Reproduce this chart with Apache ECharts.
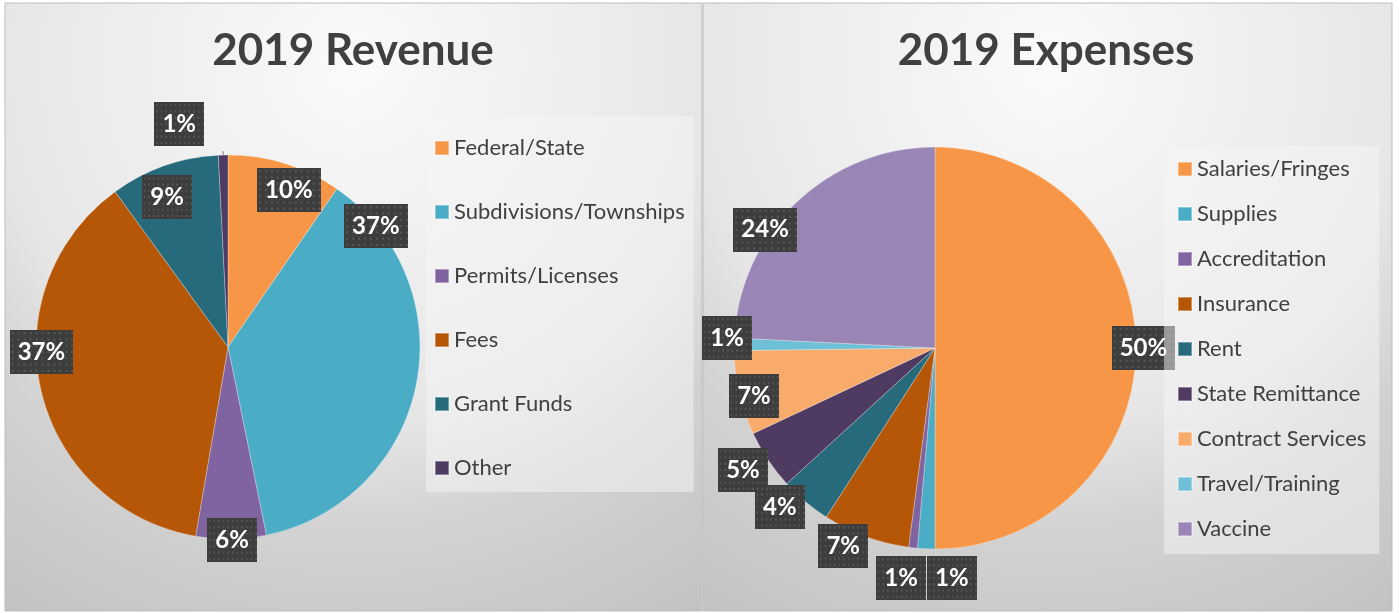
<!DOCTYPE html>
<html>
<head>
<meta charset="utf-8">
<script src="https://cdn.jsdelivr.net/npm/echarts@6/dist/echarts.min.js"></script>
<style>
  html, body { margin: 0; padding: 0; background: #fff; }
  #chart { width: 1399px; height: 613px; }
</style>
</head>
<body>
<div id="chart"></div>
<script>
// revenue pie
const revNames = ['Federal/State', 'Subdivisions/Townships', 'Permits/Licenses', 'Fees', 'Grant Funds', 'Other'];
const revValues = [9.6, 37.2, 5.9, 37.3, 9.2, 0.8];
const revColors = ['#f79646', '#4bacc6', '#8064a2', '#b65708', '#276a7c', '#4f3b62'];

// expenses pie
const expNames = ['Salaries/Fringes', 'Supplies', 'Accreditation', 'Insurance', 'Rent', 'State Remittance', 'Contract Services', 'Travel/Training', 'Vaccine'];
const expValues = [50, 1.4, 0.7, 7.0, 4.1, 4.8, 6.8, 1.0, 24.2];
const expColors = ['#f79646', '#4bacc6', '#8064a2', '#b65708', '#276a7c', '#4f3b62', '#f9ab6b', '#6ec0d6', '#9a86b6'];

// label placement, excel style: distance (x radius) and angle shift from the slice middle
const revLabelDist = [0.877, 0.995, 1.005, 0.972, 0.843, 1.168];
const revLabelShift = [3.9, -50.8, -0.3, 11.6, -2.7, -4.7];
const revLeader = [false, false, false, false, false, true];
const expLabelDist = [1.037, 1.147, 1.157, 1.086, 1.105, 1.132, 0.932, 1.036, 1.03];
const expLabelShift = [0, -6.7, 2.1, 4.7, 4.2, 1.4, -1.9, 1.7, -11.6];

const revCenter = [228, 347], revRadius = 192;
const expCenter = [935, 348], expRadius = 201;

// dotted dark box behind the percent labels
const dots = document.createElement('canvas');
dots.width = 64; dots.height = 42;
(() => {
  const g = dots.getContext('2d');
  g.fillStyle = '#3d3d3d';
  g.fillRect(0, 0, 64, 42);
  g.fillStyle = '#575757';
  for (let x = 2; x < 64; x += 6) {
    for (let y = 2; y < 42; y += 6) g.fillRect(x, y, 2, 2);
  }
})();

const labelStyle = {
  position: 'inside',
  color: '#fff',
  fontFamily: 'Lato',
  fontWeight: 'bold',
  fontSize: 24,
  lineHeight: 24,
  padding: [10, 8, 10, 8],
  backgroundColor: { image: dots },
  shadowColor: 'rgba(0,0,0,0.45)',
  shadowBlur: 6,
  shadowOffsetX: 3,
  shadowOffsetY: 3,
  formatter: p => Math.round(p.percent) + '%'
};

function makeLayout(values, center, R, dist, shift) {
  const total = values.reduce((a, b) => a + b, 0);
  const mids = [];
  let acc = 0;
  values.forEach(v => { mids.push((acc + v / 2) / total * 360); acc += v; });
  return params => {
    const i = params.dataIndex;
    const a = (mids[i] + shift[i]) * Math.PI / 180;
    const tx = center[0] + R * dist[i] * Math.sin(a);
    const ty = center[1] - R * dist[i] * Math.cos(a);
    const lr = params.labelRect;
    return { dx: tx - (lr.x + lr.width / 2), dy: ty - (lr.y + lr.height / 2) };
  };
}

function panelFill() {
  return new echarts.graphic.RadialGradient(0.5, 0.1, 1.07, [
    { offset: 0, color: '#fafafa' },
    { offset: 0.55, color: '#e6e6e6' },
    { offset: 0.72, color: '#d2d2d2' },
    { offset: 1, color: '#c2c2c2' }
  ]);
}

const titleStyle = { fontFamily: 'Lato', fontWeight: 'bold', fontSize: 44, color: '#404040' };
const legendText = { fontFamily: 'Lato', fontSize: 22, color: '#404040' };

const chart = echarts.init(document.getElementById('chart'));

const option = {
  animation: false,
  backgroundColor: '#fff',
  graphic: [
    { type: 'rect', z: 0, silent: true, shape: { x: 5, y: 3, width: 697, height: 608 },
      style: { fill: panelFill(), stroke: '#bdbdbd', lineWidth: 1 } },
    { type: 'rect', z: 0, silent: true, shape: { x: 703, y: 3, width: 689, height: 608 },
      style: { fill: panelFill(), stroke: '#bdbdbd', lineWidth: 1 } }
  ],
  title: [
    { text: '2019 Revenue', left: 348, top: 24, textAlign: 'center', textStyle: titleStyle },
    { text: '2019 Expenses', left: 1041, top: 24, textAlign: 'center', textStyle: titleStyle }
  ],
  legend: [
    {
      data: revNames, orient: 'vertical', left: 426, top: 116,
      itemWidth: 14, itemHeight: 14, itemGap: 42, icon: 'rect',
      padding: [21, 9, 13, 8], backgroundColor: 'rgba(245,245,245,0.5)',
      selectedMode: false, textStyle: legendText
    },
    {
      data: expNames, orient: 'vertical', left: 1164, top: 146,
      itemWidth: 14, itemHeight: 14, itemGap: 23, icon: 'rect',
      padding: [12, 13, 14, 13], backgroundColor: 'rgba(245,245,245,0.5)',
      selectedMode: false, textStyle: legendText
    }
  ],
  series: [
    {
      type: 'pie', center: revCenter, radius: revRadius, startAngle: 90, clockwise: true,
      silent: true, avoidLabelOverlap: false,
      itemStyle: { borderColor: 'rgba(255,255,255,0.35)', borderWidth: 0.8 },
      label: labelStyle,
      labelLine: { show: false, length: 4, length2: 0, lineStyle: { color: '#7f7f7f', width: 1 } },
      labelLayout: makeLayout(revValues, revCenter, revRadius, revLabelDist, revLabelShift),
      data: revNames.map((n, i) => ({
        name: n, value: revValues[i], itemStyle: { color: revColors[i] },
        label: revLeader[i] ? { position: 'outside' } : {},
        labelLine: { show: revLeader[i] }
      }))
    },
    {
      type: 'pie', center: expCenter, radius: expRadius, startAngle: 90, clockwise: true,
      silent: true, avoidLabelOverlap: false,
      itemStyle: { borderColor: 'rgba(255,255,255,0.35)', borderWidth: 0.8 },
      label: labelStyle,
      labelLine: { show: false },
      labelLayout: makeLayout(expValues, expCenter, expRadius, expLabelDist, expLabelShift),
      data: expNames.map((n, i) => ({
        name: n, value: expValues[i], itemStyle: { color: expColors[i] }
      }))
    }
  ]
};

chart.setOption(option);
</script>
</body>
</html>
